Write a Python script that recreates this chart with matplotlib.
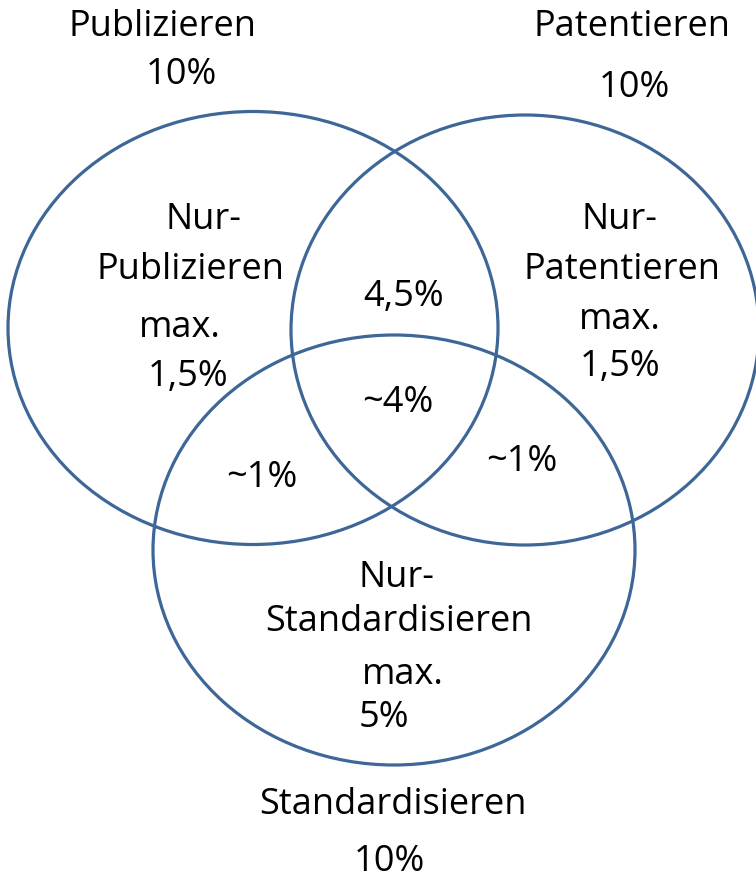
import matplotlib
matplotlib.use("Agg")
import matplotlib.pyplot as plt
from matplotlib.patches import Ellipse

# Data
set_names = ["Publizieren", "Patentieren", "Standardisieren"]
set_totals = ["10%", "10%", "10%"]
only_labels = ["Nur-\nPublizieren", "Nur-\nPatentieren", "Nur-\nStandardisieren"]
only_values = ["max.\n1,5%", "max.\n1,5%", "max.\n5%"]
pair_pub_pat = "4,5%"
pair_pub_std = "~1%"
pair_pat_std = "~1%"
triple = "~4%"

W, H = 756, 880
fig = plt.figure(figsize=(W / 100, H / 100), dpi=100)
ax = fig.add_axes([0, 0, 1, 1])
ax.set_xlim(0, W)
ax.set_ylim(H, 0)
ax.axis("off")

color = "#3E6797"
# ellipses: (cx, cy, w, h)
ellipses = [(253, 328, 490, 433), (525, 330, 468, 430), (394, 550, 482, 430)]
for cx, cy, w, h in ellipses:
    ax.add_patch(Ellipse((cx, cy), w, h, fill=False, edgecolor=color, lw=2.3))

font = dict(family="Open Sans", fontsize=26, color="black", ha="center", va="center")

def put(x, y, s, **kw):
    d = dict(font)
    d.update(kw)
    ax.text(x, y, s, **d)

# outer set names and totals
name_pos = [(163, 27), (632, 27), (393, 805)]
tot_pos = [(181, 75), (634, 88), (389, 862)]
for (x, y), s in zip(name_pos, set_names):
    put(x, y, s)
for (x, y), s in zip(tot_pos, set_totals):
    put(x, y, s)

# only regions
only_lines = [
    [(203, 220), (190, 270), (180, 328), (188, 377)],
    [(619, 220), (622, 270), (620, 320), (620, 367)],
    [(396, 578), (399, 622), (403, 675), (384, 718)],
]
for pos, lab, val in zip(only_lines, only_labels, only_values):
    parts = lab.split("\n") + val.split("\n")
    for (x, y), s in zip(pos, parts):
        put(x, y, s)

put(404, 297, pair_pub_pat)
put(262, 478, pair_pub_std)
put(522, 462, pair_pat_std)
put(398, 403, triple)

fig.savefig("out.png", dpi=100)
